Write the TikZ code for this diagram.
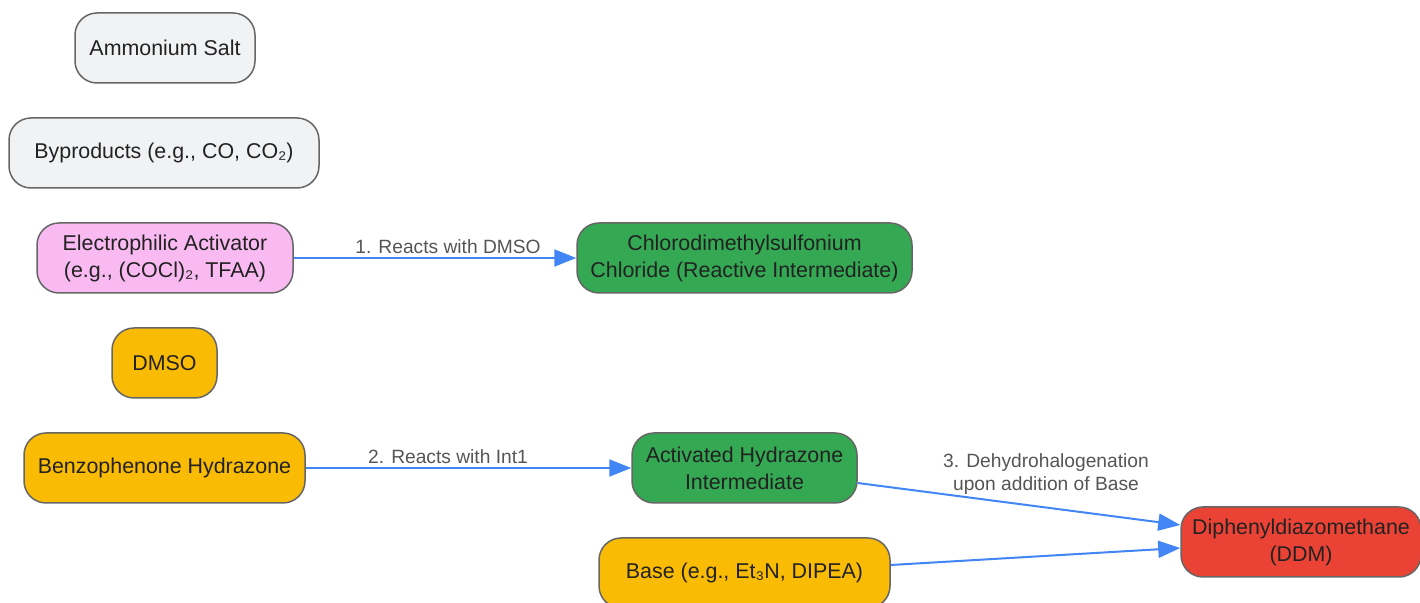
\documentclass[tikz,border=0pt]{standalone}
\usepackage{fontspec}
\setmainfont{Liberation Sans}
\usetikzlibrary{arrows.meta}
\definecolor{txt}{HTML}{222222}
\definecolor{lbl}{HTML}{555555}
\definecolor{bord}{HTML}{666666}
\definecolor{grayf}{HTML}{F1F2F4}
\definecolor{pinkf}{HTML}{F8BAF1}
\definecolor{greenf}{HTML}{34A853}
\definecolor{orangef}{HTML}{FABB05}
\definecolor{redf}{HTML}{EA4335}
\definecolor{arr}{HTML}{4285F4}
\tikzset{
  box/.style={draw=bord, line width=0.75pt, rounded corners=11pt, align=center,
    text=txt, font=\fontsize{10.7}{13.5}\selectfont, inner sep=0pt, anchor=center},
  gbox/.style={box, fill=grayf},
  pbox/.style={box, fill=pinkf},
  grbox/.style={box, fill=greenf},
  obox/.style={box, fill=orangef},
  rbox/.style={box, fill=redf},
  link/.style={draw=arr, line width=1pt, -{Triangle[length=11pt,width=8.5pt]}},
  elabel/.style={text=lbl, font=\fontsize{9.6}{11.5}\selectfont, align=center, inner sep=0pt}
}
\begin{document}
\begin{tikzpicture}[x=0.5pt, y=-0.5pt]
\useasboundingbox (0,0) rectangle (1420,603);
\node[gbox, minimum width=90pt, minimum height=35pt] (amm) at (165,48) {Ammonium Salt};
\node[gbox, minimum width=155pt, minimum height=35pt] (byp) at (164,153) {Byproducts (e.g., CO, CO₂)};
\node[pbox, minimum width=128pt, minimum height=35pt] (ea) at (165,258) {Electrophilic Activator\\(e.g., (COCl)₂, TFAA)};
\node[obox, minimum width=52.5pt, minimum height=35pt] (dmso) at (164.5,363) {DMSO};
\node[obox, minimum width=140.5pt, minimum height=35pt] (bh) at (164.5,468) {Benzophenone Hydrazone};
\node[grbox, minimum width=167.5pt, minimum height=35pt] (cds) at (744.5,258) {Chlorodimethylsulfonium\\Chloride (Reactive Intermediate)};
\node[grbox, minimum width=112.5pt, minimum height=35pt] (act) at (744.5,468) {Activated Hydrazone\\Intermediate};
\node[obox, minimum width=145.5pt, minimum height=35pt] (base) at (744.5,573) {Base (e.g., Et₃N, DIPEA)};
\node[rbox, minimum width=120pt, minimum height=35pt] (ddm) at (1301,542) {Diphenyldiazomethane\\(DDM)};
\draw[link] (ea.east) -- (cds.west);
\node[elabel] (l1) at (448,247) {1. Reacts with DMSO};
\draw[link] (bh.east) -- (act.west);
\node[elabel] (l2) at (448,457) {2. Reacts with Int1};
\draw[link] ([yshift=-7.5pt]act.east) -- ([yshift=8.5pt]ddm.west);
\node[elabel] (l3) at (1046,474) {3. Dehydrohalogenation\\upon addition of Base};
\draw[link] ([yshift=4pt]base.east) -- ([yshift=-3pt]ddm.west);
\end{tikzpicture}
\end{document}
